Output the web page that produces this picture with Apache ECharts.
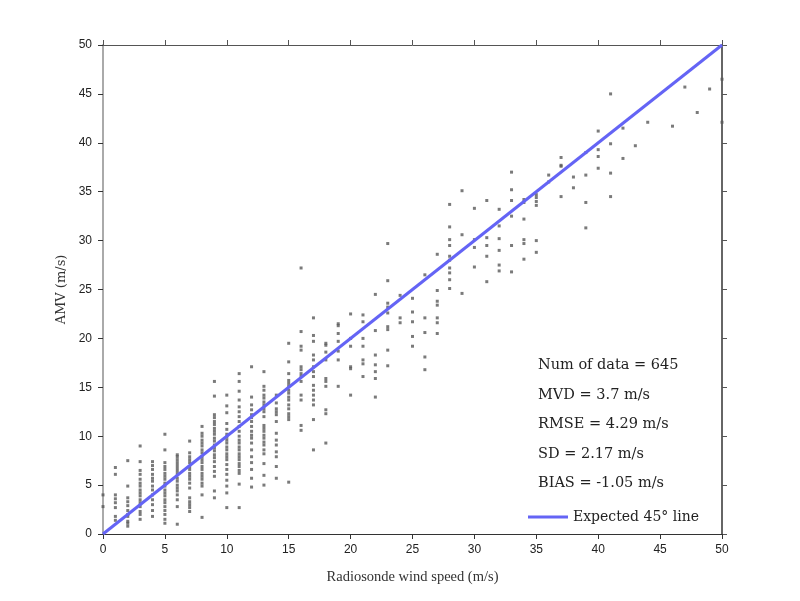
<!DOCTYPE html>
<html>
<head>
<meta charset="utf-8">
<script src="https://cdn.jsdelivr.net/npm/echarts@6/dist/echarts.min.js"></script>
<style>
  html, body { margin: 0; padding: 0; background: #fff; }
  #chart { width: 800px; height: 601px; }
</style>
</head>
<body>
<div id="chart"></div>
<script>
// radiosonde speed (m/s) of each column of points
const speeds = [0, 1, 2, 3, 4, 5, 6, 7, 8, 9, 10, 11, 12, 13, 14, 15, 16, 17, 18, 19, 20,
  21, 22, 23, 24, 25, 26, 27, 28, 29, 30, 31, 32, 33, 34, 35, 36, 37, 38, 39, 40,
  41, 42, 43, 44, 46, 47, 48, 49, 50]

// AMV values (m/s), one list per speed above
const amvValues = [
  [4.0, 2.8],
  [6.8, 6.1, 4.0, 3.6, 3.2, 2.7, 1.8, 1.4],
  [7.5, 4.9, 3.7, 3.3, 2.9, 2.4, 2.0, 1.8, 1.3, 1.1, 0.8],
  [9.0, 7.4, 6.5, 6.1, 5.6, 5.2, 4.9, 4.5, 4.2, 3.9, 3.5, 3.2, 2.8, 2.3, 2.0, 1.5],
  [7.4, 7.0, 6.6, 6.1, 5.7, 5.4, 4.9, 4.5, 4.0, 3.5, 3.0, 2.4, 1.8],
  [10.2, 8.6, 7.3, 6.9, 6.6, 6.2, 5.9, 5.6, 5.2, 4.9, 4.5, 4.2, 3.9, 3.5, 3.2, 2.8, 2.4, 2.0, 1.5, 1.1],
  [8.1, 7.9, 7.6, 7.3, 7.0, 6.7, 6.4, 6.1, 5.7, 5.4, 5.0, 4.7, 4.4, 4.0, 3.5, 2.8, 1.0],
  [9.5, 8.3, 7.9, 7.6, 7.3, 6.9, 6.6, 6.2, 5.9, 5.6, 5.2, 4.7, 3.7, 3.3, 3.0, 2.7, 2.3],
  [11.0, 10.3, 10.0, 9.6, 9.3, 9.0, 8.6, 8.3, 7.9, 7.6, 7.3, 6.9, 6.6, 6.2, 5.9, 5.6, 5.2, 4.9, 4.0, 1.7],
  [15.6, 14.1, 12.2, 11.9, 11.5, 11.2, 10.8, 10.5, 10.2, 9.8, 9.5, 9.1, 8.8, 8.5, 8.1, 7.8, 7.4, 6.9, 6.4, 5.9, 4.4, 3.7],
  [14.2, 13.1, 12.4, 11.3, 10.7, 10.2, 9.9, 9.6, 9.3, 8.9, 8.6, 8.2, 7.9, 7.6, 7.1, 6.6, 6.1, 5.5, 4.9, 4.2, 2.7],
  [16.4, 15.6, 14.6, 13.7, 13.0, 12.5, 12.0, 11.5, 11.0, 10.5, 10.0, 9.6, 9.3, 8.9, 8.6, 8.2, 7.9, 7.6, 7.2, 6.9, 6.5, 6.2, 5.1, 2.7],
  [17.1, 14.0, 13.2, 12.7, 12.2, 11.9, 11.5, 11.0, 10.5, 10.1, 9.8, 9.3, 8.6, 7.9, 7.3, 6.6, 5.7, 4.8],
  [16.6, 15.1, 14.7, 14.2, 13.9, 13.5, 13.2, 12.8, 12.5, 12.0, 11.1, 10.8, 10.5, 10.1, 9.8, 9.4, 9.1, 8.6, 8.2, 7.2, 6.0, 5.0],
  [14.2, 13.4, 12.8, 12.5, 12.2, 11.5, 10.3, 9.6, 9.1, 8.4, 7.9, 6.9, 5.7],
  [19.5, 17.6, 16.4, 15.7, 15.4, 15.1, 14.7, 14.4, 14.0, 13.7, 13.2, 12.8, 12.3, 12.0, 11.7, 5.3],
  [27.2, 20.7, 19.2, 18.8, 17.1, 16.8, 16.4, 16.1, 15.6, 14.2, 13.7, 11.1, 10.6],
  [22.1, 20.3, 19.7, 18.3, 17.8, 17.1, 16.6, 16.1, 15.2, 14.7, 14.2, 13.7, 13.2, 11.7, 8.6],
  [19.5, 19.3, 18.6, 17.8, 15.9, 15.6, 15.1, 12.7, 12.3, 9.3],
  [21.5, 21.3, 20.5, 19.7, 18.7, 17.8, 15.1],
  [22.5, 20.0, 19.2, 17.1, 16.9, 14.2],
  [22.4, 21.7, 20.0, 19.2, 17.8, 17.4, 16.1],
  [24.5, 20.8, 18.3, 17.3, 16.6, 15.9, 14.0],
  [29.7, 25.9, 23.6, 23.2, 22.6, 21.2, 20.9, 18.8, 17.2],
  [24.4, 22.1, 21.6],
  [24.1, 22.7, 21.7, 20.2, 19.2],
  [26.5, 22.1, 20.6, 18.1, 16.8],
  [28.6, 24.9, 23.8, 23.4, 22.1, 21.6, 20.5],
  [33.7, 31.4, 30.1, 29.5, 28.4, 28.0, 27.2, 26.7, 26.0, 25.1],
  [35.1, 30.6, 24.6],
  [33.3, 30.1, 29.3, 27.3],
  [34.1, 30.3, 29.5, 28.4, 25.8],
  [33.2, 31.5, 30.2, 29.0, 27.5, 26.9],
  [37.0, 35.2, 34.1, 32.5, 29.5, 26.8],
  [34.2, 33.9, 32.2, 30.1, 29.7, 28.1],
  [34.7, 34.4, 34.0, 33.6, 30.0, 28.8],
  [36.7, 36.0],
  [38.5, 37.7, 37.6, 34.5],
  [36.5, 35.4],
  [39.0, 36.7, 33.9, 31.3],
  [41.2, 39.3, 38.6, 37.4],
  [45.0, 39.9, 36.9, 34.5],
  [41.5, 38.4],
  [39.7],
  [42.1],
  [41.7],
  [45.7],
  [43.1],
  [45.5],
  [46.5, 42.1]
]

// expected 45 degree line end points
const lineX = [0, 50]
const lineY = [0, 50]

const statLines = [
  'Num of data = 645',
  'MVD = 3.7 m/s',
  'RMSE = 4.29 m/s',
  'SD = 2.17 m/s',
  'BIAS = -1.05 m/s'
]

const points = []
speeds.forEach((s, i) => {
  amvValues[i].forEach(v => points.push([s, v]))
})

const serif = '"DejaVu Serif", "Liberation Serif", serif'
const tickFont = { fontFamily: '"Liberation Sans", Arial, sans-serif', fontSize: 12, color: '#222' }

const chart = echarts.init(document.getElementById('chart'))

const option = {
  animation: false,
  grid: { left: 103, right: 78, top: 45, bottom: 67 },
  legend: {
    left: 523,
    top: 505,
    icon: 'rect',
    itemWidth: 40,
    itemHeight: 3,
    itemGap: 10,
    textStyle: { fontFamily: serif, fontSize: 14, color: '#222' },
    data: ['Expected 45° line']
  },
  xAxis: [
    {
      type: 'value', min: 0, max: 50, interval: 5, position: 'bottom',
      name: 'Radiosonde wind speed (m/s)', nameLocation: 'middle', nameGap: 36,
      nameTextStyle: { fontFamily: '"Liberation Serif", serif', fontSize: 14.5, color: '#333' },
      axisLine: { onZero: false, lineStyle: { color: '#333', width: 1 } },
      axisTick: { inside: false, length: 5, lineStyle: { color: '#333' } },
      axisLabel: Object.assign({ margin: 10 }, tickFont),
      splitLine: { show: false }
    },
    {
      type: 'value', min: 0, max: 50, interval: 5, position: 'top',
      axisLine: { onZero: false, lineStyle: { color: '#555', width: 1 } },
      axisTick: { inside: false, length: 5, lineStyle: { color: '#555' } },
      axisLabel: { show: false },
      splitLine: { show: false }
    }
  ],
  yAxis: [
    {
      type: 'value', min: 0, max: 50, interval: 5, position: 'left',
      name: 'AMV (m/s)', nameLocation: 'middle', nameGap: 34,
      nameTextStyle: { fontFamily: serif, fontSize: 13, color: '#333' },
      axisLine: { show: true, onZero: false, lineStyle: { color: '#aaa', width: 2 } },
      axisTick: { show: true, inside: false, length: 5, lineStyle: { color: '#333' } },
      axisLabel: Object.assign({ margin: 11 }, tickFont),
      splitLine: { show: false }
    },
    {
      type: 'value', min: 0, max: 50, interval: 5, position: 'right',
      axisLine: { show: true, onZero: false, lineStyle: { color: '#666', width: 2 } },
      axisTick: { show: true, inside: false, length: 5, lineStyle: { color: '#555' } },
      axisLabel: { show: false },
      splitLine: { show: false }
    }
  ],
  series: [
    {
      type: 'scatter',
      name: 'AMV',
      symbol: 'rect',
      symbolSize: 3,
      itemStyle: { color: '#595959' },
      data: points
    },
    {
      type: 'line',
      name: 'Expected 45° line',
      symbol: 'none',
      lineStyle: { color: '#6464f5', width: 3 },
      itemStyle: { color: '#6464f5' },
      data: lineX.map((x, i) => [x, lineY[i]]),
      z: 3
    }
  ],
  graphic: statLines.map((t, i) => ({
    type: 'text',
    left: 538,
    top: 358 + i * 29.5,
    style: { text: t, font: '14.5px ' + serif, fill: '#222' }
  }))
}

chart.setOption(option)
</script>
</body>
</html>
